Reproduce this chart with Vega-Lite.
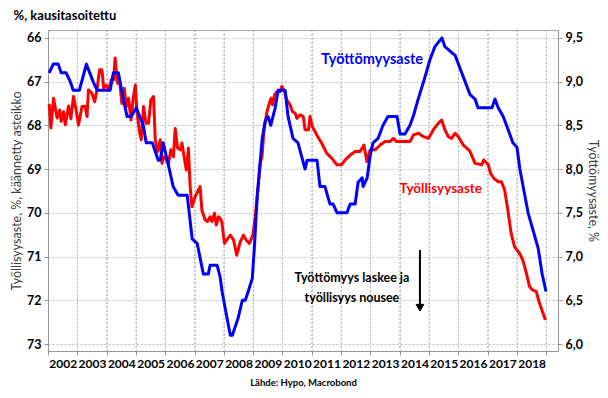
{
  "$schema": "https://vega.github.io/schema/vega-lite/v6.json",
  "width": 510,
  "height": 321,
  "autosize": {"type": "none"},
  "padding": {"left": 48, "top": 30, "right": 50, "bottom": 47},
  "background": "white",
  "title": {"text": "%, kausitasoitettu", "anchor": "start", "frame": "bounds", "font": "Lato", "fontSize": 13, "fontWeight": "bold", "color": "black", "offset": 7, "dx": 3},
  "config": {
    "view": {"stroke": "#a6a6a6"},
    "font": "Lato",
    "axisX": {
      "labelOffset": 14.7,
      "labelFlush": false,
      "labelOverlap": false,
      "labelFont": "Lato", "labelFontSize": 12, "labelFontWeight": "bold", "labelColor": "black",
      "labelPadding": 3,
      "tickSize": 4, "tickColor": "#969696", "domainColor": "#969696",
      "grid": true, "gridDash": [2, 2], "gridColor": "#bdbdbd",
      "titleFont": "Lato", "titleFontSize": 9.5, "titleFontWeight": "bold", "titleColor": "black",
      "titlePadding": 8
    }
  },
  "datasets": {
    "vuodet": [
      {"vuosi":2003},{"vuosi":2004},{"vuosi":2005},{"vuosi":2006},{"vuosi":2007},{"vuosi":2008},{"vuosi":2009},{"vuosi":2010},{"vuosi":2011},{"vuosi":2012},{"vuosi":2013},{"vuosi":2014},{"vuosi":2015},{"vuosi":2016},{"vuosi":2017},{"vuosi":2018},{"vuosi":2019}
    ],
    "tyollisyys": [
      {"vuosi":2002.04,"arvo":67.51},{"vuosi":2002.10,"arvo":68.06},{"vuosi":2002.19,"arvo":67.38},{"vuosi":2002.31,"arvo":67.83},{"vuosi":2002.40,"arvo":67.65},{"vuosi":2002.45,"arvo":67.91},{"vuosi":2002.53,"arvo":67.69},{"vuosi":2002.59,"arvo":67.99},{"vuosi":2002.70,"arvo":67.56},{"vuosi":2002.78,"arvo":67.85},{"vuosi":2002.87,"arvo":67.34},{"vuosi":2002.96,"arvo":67.65},{"vuosi":2003.04,"arvo":67.99},{"vuosi":2003.16,"arvo":67.57},{"vuosi":2003.27,"arvo":67.57},{"vuosi":2003.33,"arvo":67.80},{"vuosi":2003.38,"arvo":67.19},{"vuosi":2003.50,"arvo":67.27},{"vuosi":2003.59,"arvo":67.46},{"vuosi":2003.67,"arvo":67.19},{"vuosi":2003.76,"arvo":66.73},{"vuosi":2003.84,"arvo":66.73},{"vuosi":2003.90,"arvo":67.15},{"vuosi":2003.99,"arvo":67.08},{"vuosi":2004.07,"arvo":67.19},{"vuosi":2004.16,"arvo":66.96},{"vuosi":2004.24,"arvo":66.96},{"vuosi":2004.29,"arvo":66.46},{"vuosi":2004.37,"arvo":67.04},{"vuosi":2004.44,"arvo":66.96},{"vuosi":2004.52,"arvo":67.50},{"vuosi":2004.60,"arvo":67.15},{"vuosi":2004.67,"arvo":67.57},{"vuosi":2004.75,"arvo":67.38},{"vuosi":2004.83,"arvo":67.88},{"vuosi":2004.90,"arvo":67.42},{"vuosi":2004.98,"arvo":67.08},{"vuosi":2005.03,"arvo":67.65},{"vuosi":2005.12,"arvo":68.14},{"vuosi":2005.18,"arvo":68.33},{"vuosi":2005.26,"arvo":67.57},{"vuosi":2005.34,"arvo":67.95},{"vuosi":2005.43,"arvo":67.95},{"vuosi":2005.51,"arvo":67.42},{"vuosi":2005.60,"arvo":67.34},{"vuosi":2005.66,"arvo":68.33},{"vuosi":2005.74,"arvo":68.60},{"vuosi":2005.83,"arvo":68.33},{"vuosi":2005.89,"arvo":68.87},{"vuosi":2005.94,"arvo":68.72},{"vuosi":2006.03,"arvo":68.79},{"vuosi":2006.11,"arvo":68.87},{"vuosi":2006.19,"arvo":68.56},{"vuosi":2006.28,"arvo":68.72},{"vuosi":2006.34,"arvo":68.07},{"vuosi":2006.42,"arvo":68.52},{"vuosi":2006.51,"arvo":68.56},{"vuosi":2006.57,"arvo":68.40},{"vuosi":2006.66,"arvo":68.79},{"vuosi":2006.72,"arvo":69.02},{"vuosi":2006.79,"arvo":68.52},{"vuosi":2006.85,"arvo":69.40},{"vuosi":2006.91,"arvo":69.86},{"vuosi":2007.02,"arvo":69.63},{"vuosi":2007.19,"arvo":69.40},{"vuosi":2007.25,"arvo":69.94},{"vuosi":2007.36,"arvo":70.16},{"vuosi":2007.44,"arvo":70.20},{"vuosi":2007.53,"arvo":70.09},{"vuosi":2007.59,"arvo":70.20},{"vuosi":2007.68,"arvo":70.01},{"vuosi":2007.74,"arvo":70.28},{"vuosi":2007.82,"arvo":70.09},{"vuosi":2007.87,"arvo":70.13},{"vuosi":2007.93,"arvo":70.20},{"vuosi":2008.02,"arvo":70.70},{"vuosi":2008.14,"arvo":70.58},{"vuosi":2008.22,"arvo":70.51},{"vuosi":2008.33,"arvo":70.62},{"vuosi":2008.44,"arvo":70.97},{"vuosi":2008.56,"arvo":70.66},{"vuosi":2008.67,"arvo":70.51},{"vuosi":2008.76,"arvo":70.62},{"vuosi":2008.87,"arvo":70.70},{"vuosi":2008.99,"arvo":70.51},{"vuosi":2009.07,"arvo":70.09},{"vuosi":2009.16,"arvo":69.48},{"vuosi":2009.24,"arvo":68.87},{"vuosi":2009.30,"arvo":68.72},{"vuosi":2009.37,"arvo":68.10},{"vuosi":2009.47,"arvo":67.69},{"vuosi":2009.55,"arvo":67.50},{"vuosi":2009.61,"arvo":67.38},{"vuosi":2009.66,"arvo":67.53},{"vuosi":2009.73,"arvo":67.30},{"vuosi":2009.81,"arvo":67.23},{"vuosi":2009.92,"arvo":67.23},{"vuosi":2009.98,"arvo":67.11},{"vuosi":2010.07,"arvo":67.23},{"vuosi":2010.15,"arvo":67.42},{"vuosi":2010.26,"arvo":67.53},{"vuosi":2010.34,"arvo":67.69},{"vuosi":2010.43,"arvo":67.72},{"vuosi":2010.49,"arvo":67.84},{"vuosi":2010.60,"arvo":67.76},{"vuosi":2010.71,"arvo":67.80},{"vuosi":2010.77,"arvo":68.10},{"vuosi":2010.89,"arvo":68.10},{"vuosi":2010.94,"arvo":67.80},{"vuosi":2011.02,"arvo":68.03},{"vuosi":2011.17,"arvo":68.22},{"vuosi":2011.34,"arvo":68.41},{"vuosi":2011.51,"arvo":68.64},{"vuosi":2011.68,"arvo":68.75},{"vuosi":2011.85,"arvo":68.90},{"vuosi":2012.02,"arvo":68.90},{"vuosi":2012.14,"arvo":68.79},{"vuosi":2012.31,"arvo":68.68},{"vuosi":2012.48,"arvo":68.60},{"vuosi":2012.65,"arvo":68.60},{"vuosi":2012.78,"arvo":68.45},{"vuosi":2012.88,"arvo":68.83},{"vuosi":2012.99,"arvo":68.56},{"vuosi":2013.16,"arvo":68.56},{"vuosi":2013.33,"arvo":68.45},{"vuosi":2013.50,"arvo":68.37},{"vuosi":2013.67,"arvo":68.37},{"vuosi":2013.78,"arvo":68.30},{"vuosi":2013.90,"arvo":68.37},{"vuosi":2014.07,"arvo":68.37},{"vuosi":2014.35,"arvo":68.37},{"vuosi":2014.47,"arvo":68.22},{"vuosi":2014.64,"arvo":68.18},{"vuosi":2014.81,"arvo":68.26},{"vuosi":2014.98,"arvo":68.30},{"vuosi":2015.15,"arvo":68.10},{"vuosi":2015.32,"arvo":67.95},{"vuosi":2015.43,"arvo":67.88},{"vuosi":2015.54,"arvo":68.10},{"vuosi":2015.66,"arvo":68.26},{"vuosi":2015.77,"arvo":68.30},{"vuosi":2015.89,"arvo":68.18},{"vuosi":2016.00,"arvo":68.26},{"vuosi":2016.17,"arvo":68.45},{"vuosi":2016.35,"arvo":68.56},{"vuosi":2016.40,"arvo":68.60},{"vuosi":2016.57,"arvo":68.87},{"vuosi":2016.80,"arvo":68.90},{"vuosi":2016.87,"arvo":68.79},{"vuosi":2017.02,"arvo":68.90},{"vuosi":2017.10,"arvo":69.10},{"vuosi":2017.21,"arvo":69.21},{"vuosi":2017.36,"arvo":69.29},{"vuosi":2017.47,"arvo":69.29},{"vuosi":2017.58,"arvo":69.48},{"vuosi":2017.69,"arvo":69.94},{"vuosi":2017.80,"arvo":70.47},{"vuosi":2017.92,"arvo":70.78},{"vuosi":2018.09,"arvo":70.93},{"vuosi":2018.20,"arvo":71.08},{"vuosi":2018.32,"arvo":71.38},{"vuosi":2018.43,"arvo":71.69},{"vuosi":2018.54,"arvo":71.77},{"vuosi":2018.66,"arvo":71.80},{"vuosi":2018.77,"arvo":72.07},{"vuosi":2018.97,"arvo":72.45}
    ],
    "tyottomyys": [
      {"vuosi":2002.04,"arvo":9.1},{"vuosi":2002.18,"arvo":9.2},{"vuosi":2002.35,"arvo":9.2},{"vuosi":2002.45,"arvo":9.1},{"vuosi":2002.62,"arvo":9.1},{"vuosi":2002.76,"arvo":9.0},{"vuosi":2002.86,"arvo":8.9},{"vuosi":2003.07,"arvo":8.9},{"vuosi":2003.31,"arvo":9.2},{"vuosi":2003.54,"arvo":9.0},{"vuosi":2003.68,"arvo":8.9},{"vuosi":2004.12,"arvo":8.9},{"vuosi":2004.23,"arvo":9.1},{"vuosi":2004.40,"arvo":9.1},{"vuosi":2004.57,"arvo":8.8},{"vuosi":2004.70,"arvo":8.6},{"vuosi":2004.84,"arvo":8.6},{"vuosi":2005.01,"arvo":8.7},{"vuosi":2005.25,"arvo":8.5},{"vuosi":2005.35,"arvo":8.3},{"vuosi":2005.56,"arvo":8.3},{"vuosi":2005.66,"arvo":8.2},{"vuosi":2005.76,"arvo":8.1},{"vuosi":2005.83,"arvo":8.1},{"vuosi":2005.93,"arvo":8.3},{"vuosi":2006.07,"arvo":8.1},{"vuosi":2006.17,"arvo":7.95},{"vuosi":2006.27,"arvo":7.8},{"vuosi":2006.44,"arvo":7.7},{"vuosi":2006.75,"arvo":7.7},{"vuosi":2006.92,"arvo":7.2},{"vuosi":2007.09,"arvo":7.15},{"vuosi":2007.30,"arvo":6.8},{"vuosi":2007.47,"arvo":6.8},{"vuosi":2007.53,"arvo":6.9},{"vuosi":2007.77,"arvo":6.9},{"vuosi":2007.87,"arvo":6.77},{"vuosi":2007.94,"arvo":6.6},{"vuosi":2008.05,"arvo":6.4},{"vuosi":2008.22,"arvo":6.1},{"vuosi":2008.29,"arvo":6.1},{"vuosi":2008.49,"arvo":6.3},{"vuosi":2008.63,"arvo":6.5},{"vuosi":2008.73,"arvo":6.5},{"vuosi":2008.83,"arvo":6.6},{"vuosi":2008.97,"arvo":6.75},{"vuosi":2009.04,"arvo":7.1},{"vuosi":2009.14,"arvo":7.7},{"vuosi":2009.31,"arvo":8.35},{"vuosi":2009.41,"arvo":8.55},{"vuosi":2009.51,"arvo":8.6},{"vuosi":2009.60,"arvo":8.5},{"vuosi":2009.75,"arvo":8.7},{"vuosi":2009.85,"arvo":8.9},{"vuosi":2010.09,"arvo":8.9},{"vuosi":2010.19,"arvo":8.6},{"vuosi":2010.36,"arvo":8.35},{"vuosi":2010.53,"arvo":8.3},{"vuosi":2010.77,"arvo":8.0},{"vuosi":2010.84,"arvo":8.1},{"vuosi":2011.18,"arvo":8.1},{"vuosi":2011.28,"arvo":7.8},{"vuosi":2011.45,"arvo":7.8},{"vuosi":2011.62,"arvo":7.6},{"vuosi":2011.73,"arvo":7.6},{"vuosi":2011.86,"arvo":7.5},{"vuosi":2012.20,"arvo":7.5},{"vuosi":2012.31,"arvo":7.6},{"vuosi":2012.48,"arvo":7.6},{"vuosi":2012.58,"arvo":7.85},{"vuosi":2012.72,"arvo":7.9},{"vuosi":2012.75,"arvo":7.8},{"vuosi":2012.89,"arvo":7.9},{"vuosi":2012.99,"arvo":8.15},{"vuosi":2013.09,"arvo":8.3},{"vuosi":2013.26,"arvo":8.35},{"vuosi":2013.43,"arvo":8.5},{"vuosi":2013.60,"arvo":8.6},{"vuosi":2013.91,"arvo":8.6},{"vuosi":2014.01,"arvo":8.4},{"vuosi":2014.18,"arvo":8.4},{"vuosi":2014.35,"arvo":8.5},{"vuosi":2014.46,"arvo":8.6},{"vuosi":2014.63,"arvo":8.8},{"vuosi":2014.86,"arvo":9.05},{"vuosi":2015.03,"arvo":9.25},{"vuosi":2015.20,"arvo":9.4},{"vuosi":2015.44,"arvo":9.5},{"vuosi":2015.54,"arvo":9.4},{"vuosi":2015.71,"arvo":9.35},{"vuosi":2015.89,"arvo":9.3},{"vuosi":2016.06,"arvo":9.15},{"vuosi":2016.23,"arvo":9.0},{"vuosi":2016.40,"arvo":8.85},{"vuosi":2016.57,"arvo":8.8},{"vuosi":2016.67,"arvo":8.7},{"vuosi":2017.15,"arvo":8.7},{"vuosi":2017.25,"arvo":8.8},{"vuosi":2017.36,"arvo":8.7},{"vuosi":2017.53,"arvo":8.6},{"vuosi":2017.70,"arvo":8.45},{"vuosi":2017.86,"arvo":8.3},{"vuosi":2018.00,"arvo":8.25},{"vuosi":2018.10,"arvo":8.0},{"vuosi":2018.21,"arvo":7.8},{"vuosi":2018.38,"arvo":7.5},{"vuosi":2018.55,"arvo":7.3},{"vuosi":2018.72,"arvo":7.1},{"vuosi":2018.86,"arvo":6.8},{"vuosi":2018.99,"arvo":6.6}
    ]
  },
  "layer": [
    {
      "layer": [
        {
          "data": {"name": "vuodet"},
          "mark": {"type": "rule", "color": "#bdbdbd", "strokeWidth": 1, "strokeDash": [2, 2]},
          "encoding": {
            "x": {"field": "vuosi", "type": "quantitative", "axis": {"values": [2002,2003,2004,2005,2006,2007,2008,2009,2010,2011,2012,2013,2014,2015,2016,2017,2018,2019], "format": "d", "labelExpr": "datum.value >= 2019 ? '' : datum.label", "grid": true, "gridDash": [2, 2], "gridColor": "#bdbdbd", "title": "Lähde: Hypo, Macrobond"}}
          }
        },
        {
          "data": {"name": "tyollisyys"},
          "mark": {"type": "line", "color": "#ff0000", "strokeWidth": 3, "strokeJoin": "round"},
          "encoding": {
            "x": {
              "field": "vuosi", "type": "quantitative",
              "scale": {"domain": [2002, 2019.4], "nice": false, "zero": false},
              "axis": {
                "values": [2002,2003,2004,2005,2006,2007,2008,2009,2010,2011,2012,2013,2014,2015,2016,2017,2018,2019],
                "format": "d",
                "labelExpr": "datum.value >= 2019 ? '' : datum.label",
                "grid": true, "gridDash": [2, 2], "gridColor": "#bdbdbd",
                "title": "Lähde: Hypo, Macrobond"
              }
            },
            "y": {
              "field": "arvo", "type": "quantitative",
              "scale": {"domain": [65.82, 73.16], "reverse": true, "nice": false, "zero": false},
              "axis": {
                "values": [66, 67, 68, 69, 70, 71, 72, 73],
                "format": "d",
                "labelFont": "Lato", "labelFontSize": 12.5, "labelFontWeight": "bold", "labelColor": "black",
                "labelPadding": 3,
                "tickSize": 4, "tickColor": "#969696", "domainColor": "#969696",
                "grid": true, "gridDash": [2, 2], "gridColor": "#bdbdbd",
                "title": "Työllisyysaste, %, käännetty asteikko",
                "titleFont": "Lato", "titleFontSize": 12.5, "titleFontWeight": "normal", "titleColor": "#404040",
                "titlePadding": 3
              }
            }
          }
        },
        {
          "data": {"values": [{}]},
          "mark": {"type": "text", "text": "Työttömyysaste", "color": "#0000ff", "font": "Lato", "fontSize": 14.5, "fontWeight": "bold", "align": "center", "baseline": "middle"},
          "encoding": {
            "x": {"datum": 2013.06, "type": "quantitative", "axis": {"values": [2002,2003,2004,2005,2006,2007,2008,2009,2010,2011,2012,2013,2014,2015,2016,2017,2018,2019], "format": "d", "labelExpr": "datum.value >= 2019 ? '' : datum.label", "grid": true, "gridDash": [2, 2], "gridColor": "#bdbdbd", "title": "Lähde: Hypo, Macrobond"}},
            "y": {"datum": 66.5, "type": "quantitative"}
          }
        },
        {
          "data": {"values": [{}]},
          "mark": {"type": "text", "text": "Työllisyysaste", "color": "#ff0000", "font": "Lato", "fontSize": 13.5, "fontWeight": "bold", "align": "center", "baseline": "middle"},
          "encoding": {
            "x": {"datum": 2015.4, "type": "quantitative", "axis": {"values": [2002,2003,2004,2005,2006,2007,2008,2009,2010,2011,2012,2013,2014,2015,2016,2017,2018,2019], "format": "d", "labelExpr": "datum.value >= 2019 ? '' : datum.label", "grid": true, "gridDash": [2, 2], "gridColor": "#bdbdbd", "title": "Lähde: Hypo, Macrobond"}},
            "y": {"datum": 69.46, "type": "quantitative"}
          }
        },
        {
          "data": {"values": [{}]},
          "mark": {"type": "text", "text": ["Työttömyys laskee ja", "työllisyys nousee"], "lineHeight": 20, "color": "black", "font": "Lato", "fontSize": 12.5, "fontWeight": "bold", "align": "center", "baseline": "middle"},
          "encoding": {
            "x": {"datum": 2012.37, "type": "quantitative", "axis": {"values": [2002,2003,2004,2005,2006,2007,2008,2009,2010,2011,2012,2013,2014,2015,2016,2017,2018,2019], "format": "d", "labelExpr": "datum.value >= 2019 ? '' : datum.label", "grid": true, "gridDash": [2, 2], "gridColor": "#bdbdbd", "title": "Lähde: Hypo, Macrobond"}},
            "y": {"datum": 71.49, "type": "quantitative"}
          }
        },
        {
          "data": {"values": [{}]},
          "mark": {"type": "rule", "color": "black", "strokeWidth": 2},
          "encoding": {
            "x": {"datum": 2014.69, "type": "quantitative", "axis": {"values": [2002,2003,2004,2005,2006,2007,2008,2009,2010,2011,2012,2013,2014,2015,2016,2017,2018,2019], "format": "d", "labelExpr": "datum.value >= 2019 ? '' : datum.label", "grid": true, "gridDash": [2, 2], "gridColor": "#bdbdbd", "title": "Lähde: Hypo, Macrobond"}},
            "y": {"datum": 70.85, "type": "quantitative"},
            "y2": {"datum": 72.1}
          }
        },
        {
          "data": {"values": [{}]},
          "mark": {"type": "point", "shape": "triangle-down", "filled": true, "fill": "black", "stroke": "black", "strokeWidth": 1, "opacity": 1, "size": 60},
          "encoding": {
            "x": {"datum": 2014.69, "type": "quantitative", "axis": {"values": [2002,2003,2004,2005,2006,2007,2008,2009,2010,2011,2012,2013,2014,2015,2016,2017,2018,2019], "format": "d", "labelExpr": "datum.value >= 2019 ? '' : datum.label", "grid": true, "gridDash": [2, 2], "gridColor": "#bdbdbd", "title": "Lähde: Hypo, Macrobond"}},
            "y": {"datum": 72.17, "type": "quantitative"}
          }
        }
      ]
    },
    {
      "data": {"name": "tyottomyys"},
      "mark": {"type": "line", "color": "#0000ff", "strokeWidth": 3, "strokeJoin": "round"},
      "encoding": {
        "x": {"field": "vuosi", "type": "quantitative", "axis": {"values": [2002,2003,2004,2005,2006,2007,2008,2009,2010,2011,2012,2013,2014,2015,2016,2017,2018,2019], "format": "d", "labelExpr": "datum.value >= 2019 ? '' : datum.label", "grid": true, "gridDash": [2, 2], "gridColor": "#bdbdbd", "title": "Lähde: Hypo, Macrobond"}},
        "y": {
          "field": "arvo", "type": "quantitative",
          "scale": {"domain": [5.92, 9.59], "nice": false, "zero": false},
          "axis": {
            "orient": "right",
            "values": [6, 6.5, 7, 7.5, 8, 8.5, 9, 9.5],
            "labelExpr": "replace(format(datum.value, '.1f'), '.', ',')",
            "labelFont": "Lato", "labelFontSize": 12.5, "labelFontWeight": "bold", "labelColor": "black",
            "labelPadding": 3,
            "tickSize": 4, "tickColor": "#969696", "domainColor": "#969696",
            "grid": false,
            "title": "Työttömyysaste, %",
            "titleFont": "Lato", "titleFontSize": 12.5, "titleFontWeight": "normal", "titleColor": "#404040",
            "titlePadding": 3
          }
        }
      }
    }
  ],
  "resolve": {"scale": {"y": "independent"}}
}
